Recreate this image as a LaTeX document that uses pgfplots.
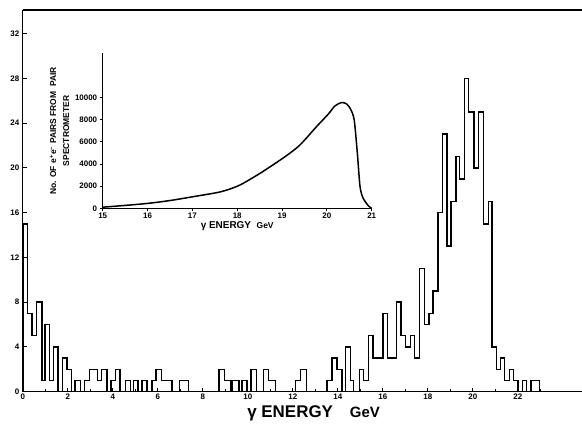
\documentclass[border=0pt]{standalone}
\usepackage{fontspec}
\setmainfont{Liberation Sans}
\usepackage{pgfplots}
\pgfplotsset{compat=1.18}
\begin{document}
\begin{tikzpicture}
\begin{axis}[
  at={(22.8bp,41.3bp)}, anchor=south west,
  scale only axis, width=559.2bp, height=381.7bp,
  xmin=0, xmax=24.85, ymin=0, ymax=34.1,
  axis x line=box, axis y line=left,
  axis line style={-, line width=1.3bp},
  xtick={0,2,...,22}, minor xtick={1,3,...,23},
  ytick={0,4,...,32},
  xtick pos=bottom, ytick pos=left,
  major tick length=4bp, minor tick length=3bp,
  tick align=inside,
  tick style={line width=1bp, black},
  ticklabel style={font=\bfseries\fontsize{8}{9}\selectfont},
  xticklabel style={yshift=1bp},
  /pgf/number format/assume math mode=true,
  xlabel={γ ENERGY\quad {\fontsize{15}{16}\selectfont GeV}},
  xlabel style={font=\bfseries\fontsize{17}{19}\selectfont, at={(axis description cs:0.52,0)}, anchor=north, yshift=-10bp},
  clip=false
]
\addplot[const plot, black, line width=1.5bp] coordinates {
(0,0) (0,15) (0.2,7) (0.4,5) (0.6,8) (0.85,1) (0.98,6) (1.19,1) (1.37,4) (1.56,0)
(1.77,3) (1.96,2) (2.16,0) (2.33,1) (2.56,0) (2.75,1) (2.96,2) (3.33,1) (3.50,2) (3.74,0)
(3.93,1) (4.11,2) (4.33,0) (4.56,1) (4.78,0) (4.93,1) (5.12,0) (5.30,1) (5.52,0) (5.74,1)
(5.93,2) (6.16,1) (6.63,0) (6.96,1) (7.37,0) (8.72,2) (8.96,1) (9.22,0) (9.30,1) (9.60,0)
(9.74,1) (9.96,0) (10.14,2) (10.38,0) (10.70,2) (10.92,1) (11.22,0) (12.11,1) (12.33,2) (12.60,0)
(13.52,1) (13.74,3) (13.96,2) (14.19,0) (14.33,4) (14.56,1) (14.70,0) (14.97,2) (15.15,1) (15.37,5)
(15.56,3) (16.00,7) (16.21,3) (16.60,8) (16.81,5) (17.01,4) (17.22,5) (17.41,3) (17.62,11) (17.84,6)
(18.04,7) (18.23,9) (18.44,16) (18.64,23) (18.85,13) (19.03,17) (19.24,21) (19.41,19) (19.62,28) (19.81,25)
(20.04,20) (20.26,25) (20.48,15) (20.69,17) (20.85,4) (21.04,2) (21.22,3) (21.41,1) (21.62,2) (21.81,1)
(22.01,0) (22.20,1) (22.39,0) (22.59,1) (22.96,0)
};
\end{axis}
\begin{axis}[
  at={(102.7bp,224.7bp)}, anchor=south west,
  scale only axis, width=269bp, height=155bp,
  xmin=15, xmax=21, ymin=0, ymax=14000,
  axis x line=bottom, axis y line=left,
  axis line style={-, line width=1.3bp},
  xtick={15,16,...,21}, ytick={0,2000,...,10000},
  tick align=outside, major tick length=3bp,
  tick style={line width=0.9bp, black},
  scaled y ticks=false,
  ticklabel style={font=\bfseries\fontsize{8}{9}\selectfont},
  yticklabel style={/pgf/number format/1000 sep={}, xshift=1bp},
  xticklabel style={yshift=2bp},
  /pgf/number format/assume math mode=true,
  xlabel={γ ENERGY\ \ {\fontsize{8.5}{9}\selectfont GeV}},
  xlabel style={font=\bfseries\fontsize{10}{11}\selectfont, yshift=4bp},
  ylabel={No. OF e\textsuperscript{+}e\textsuperscript{−} PAIRS FROM\ \ PAIR\\SPECTROMETER},
  ylabel style={font=\bfseries\fontsize{8.5}{13}\selectfont, align=center, yshift=-1bp},
  clip=false
]
\addplot[smooth, tension=0.45, black, line width=1.5bp] coordinates {
(15.0,100) (15.5,260) (16.02,450) (16.5,700) (17.02,1050) (17.54,1410) (17.77,1650) (18.06,2100)
(18.51,3160) (19.07,4670) (19.40,5720) (19.77,7380) (20.03,8500) (20.18,9250) (20.33,9550)
(20.44,9430) (20.53,8950) (20.61,7980) (20.68,4970) (20.74,1950) (20.81,900) (20.93,210) (21.0,0)
};
\end{axis}
\pgfresetboundingbox
\useasboundingbox (0bp,0bp) rectangle (582bp,433bp);
\end{tikzpicture}
\end{document}
